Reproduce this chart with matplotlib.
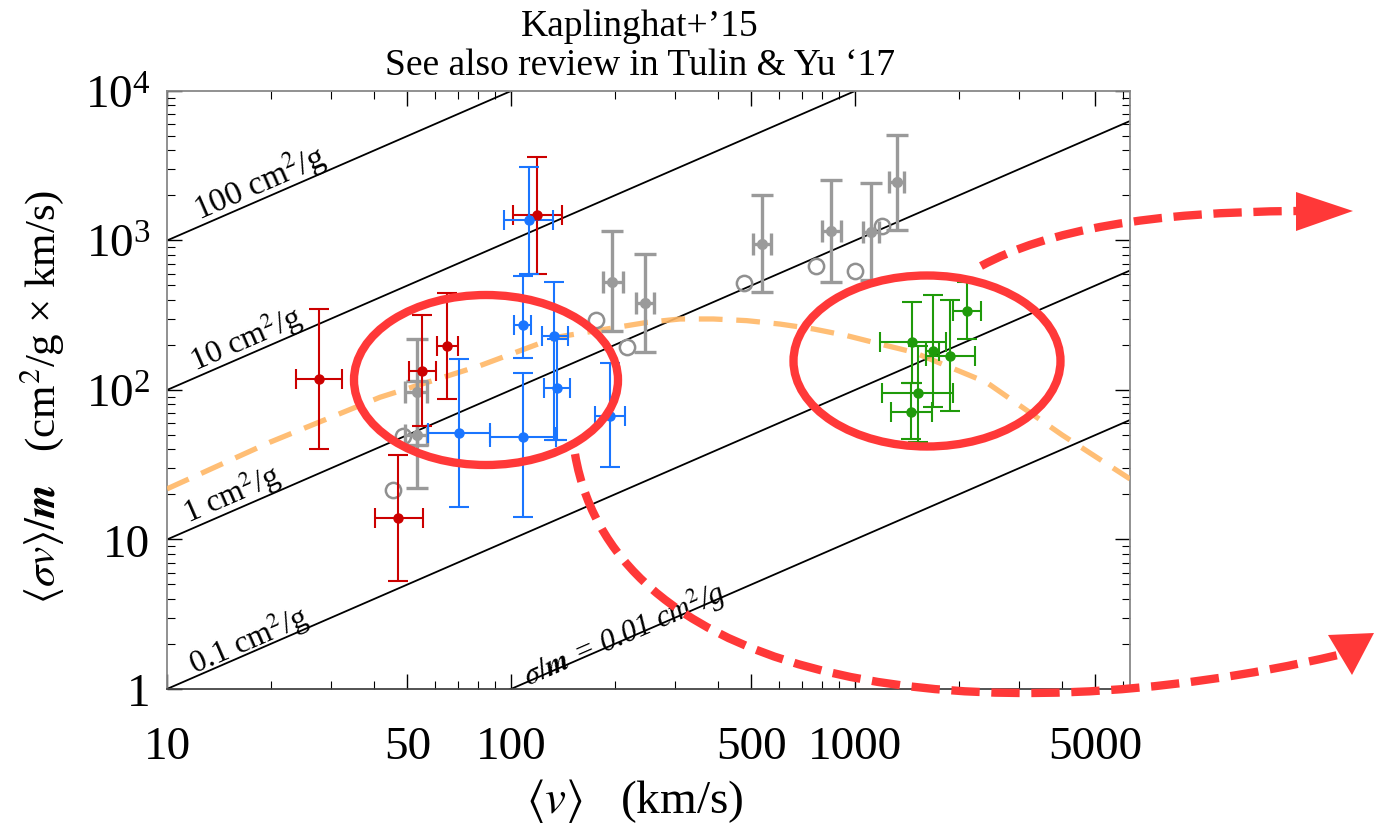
import matplotlib
matplotlib.use("Agg")
import matplotlib.pyplot as plt
import numpy as np
from matplotlib.patches import Ellipse, Polygon
from matplotlib.path import Path
from matplotlib.patches import PathPatch

plt.rcParams['font.family'] = ['Liberation Serif', 'DejaVu Serif']
plt.rcParams['mathtext.fontset'] = 'stix'

# dwarfs (red)
red_v = [27.7, 55, 65, 47, 119]
red_vlo = [23.7, 50.6, 60.8, 40.1, 101]
red_vhi = [32.3, 60.4, 70.3, 55.6, 141]
red_s = [118, 134, 198, 13.9, 1482]
red_slo = [40, 57, 87, 5.3, 597]
red_shi = [350, 318, 446, 36.9, 3600]

# LSBs (blue)
blue_v = [112.6, 108, 108, 133.6, 135.8, 70.8, 194]
blue_vlo = [95.5, 102, 86.9, 123, 124.8, 57.4, 175]
blue_vhi = [132.8, 114, 134.8, 146, 148.6, 86.9, 215]
blue_s = [1371, 273, 48.3, 231, 102.6, 51.3, 67.3]
blue_slo = [597, 164, 14.1, 46, 46.3, 16.5, 30.4]
blue_shi = [3090, 576, 129, 530, 219, 161, 152]

# gray, filled
gray_v = [53.2, 53.2, 197, 245, 536, 851, 1114, 1321]
gray_vlo = [49.2, 49.2, 185, 231, 506, 800, 1052, 1256]
gray_vhi = [56.9, 56.9, 211, 261, 570, 909, 1175, 1387]
gray_s = [97.5, 50, 530, 380, 948, 1164, 1145, 2450]
gray_slo = [42.8, 22, 247, 179, 451, 530, 545, 1175]
gray_shi = [218, 114, 1151, 812, 2027, 2552, 2426, 5100]

# gray, open circles
open_v = [45.5, 48.4, 176.6, 217, 476, 771, 1000, 1197]
open_s = [21.4, 49.5, 294, 194, 517, 675, 625, 1256]

# clusters (green)
green_v = [1468, 1683, 1892, 2113, 1520, 1455]
green_vlo = [1183, 1608, 1604, 1923, 1201, 1276]
green_vhi = [1837, 1759, 2234, 2326, 1926, 1671]
green_s = [210, 183, 170, 339, 95, 71.6]
green_slo = [111, 77, 72, 219, 44.7, 47]
green_shi = [389, 432, 402, 525, 198, 111]

# model curve (orange dashed)
curve_v = [10, 19.9, 41.6, 81.3, 135, 198, 248, 310, 387, 484, 605, 757, 946,
           1182, 1479, 2410, 4000, 6300]
curve_s = [21.8, 44.7, 89.4, 145.5, 225, 260, 283, 298.5, 298.5, 291, 276, 256,
           231, 203, 179, 112.5, 50, 25.4]

# constant sigma/m lines (cm^2/g)
sigma_m = [100, 10, 1, 0.1, 0.01]
line_labels = [r'100 cm$^2$/g', r'10 cm$^2$/g', r'1 cm$^2$/g', r'0.1 cm$^2$/g',
               r'$\sigma/\boldsymbol{m}$ = 0.01 cm$^2$/g']
label_v = [18.6, 17.0, 15.4, 17.3, 214]
label_s = [2470, 222, 20.5, 2.15, 2.33]
label_size = [24, 23, 23, 23, 22]

xlim = (10, 6300)
ylim = (1, 1e4)

fig = plt.figure(figsize=(13.85, 8.28), dpi=100)
ax = fig.add_axes([0.1206, 0.1667, 0.6953, 0.7222])
ax.set_xscale('log')
ax.set_yscale('log')
ax.set_xlim(*xlim)
ax.set_ylim(*ylim)

vv = np.array(xlim)
for sm in sigma_m:
    ax.plot(vv, sm * vv, color='black', lw=1.3, zorder=1)

ang = np.degrees(np.arctan((149.5) / 344.0))
for txt, lv, ls, fs in zip(line_labels, label_v, label_s, label_size):
    style = 'italic' if 'sigma' in txt else 'normal'
    ax.text(lv, ls, txt, rotation=ang, ha='center', va='center', fontsize=fs,
            style=style, zorder=2)

ax.plot(curve_v, curve_s, color='#ffb766', lw=3.8, ls=(0, (4.5, 2.6)), alpha=0.9, zorder=3)


def errs(v, lo, hi):
    v = np.array(v)
    return np.array([v - np.array(lo), np.array(hi) - v])


ax.plot(open_v, open_s, 'o', mfc='none', mec='#909090', mew=1.8, ms=11, zorder=4)
ax.errorbar(gray_v, gray_s, xerr=errs(gray_v, gray_vlo, gray_vhi),
            yerr=errs(gray_s, gray_slo, gray_shi), fmt='o', color='#9a9a9a',
            ms=7, elinewidth=2.4, capsize=8, capthick=2.4, zorder=5)
ax.errorbar(red_v, red_s, xerr=errs(red_v, red_vlo, red_vhi),
            yerr=errs(red_s, red_slo, red_shi), fmt='o', color='#cc0000',
            ms=6.5, elinewidth=1.5, capsize=7, capthick=1.5, zorder=6)
ax.errorbar(blue_v, blue_s, xerr=errs(blue_v, blue_vlo, blue_vhi),
            yerr=errs(blue_s, blue_slo, blue_shi), fmt='o', color='#1a75ff',
            ms=6.5, elinewidth=1.5, capsize=7, capthick=1.5, zorder=6)
ax.errorbar(green_v, green_s, xerr=errs(green_v, green_vlo, green_vhi),
            yerr=errs(green_s, green_slo, green_shi), fmt='o', color='#1f9a0a',
            ms=6.5, elinewidth=1.5, capsize=7, capthick=1.5, zorder=6)

ax.set_xticks([10, 50, 100, 500, 1000, 5000])
ax.set_xticklabels(['10', '50', '100', '500', '1000', '5000'])
ax.set_yticks([1, 10, 100, 1000, 10000])
ax.set_yticklabels(['1', '10', r'$\mathregular{10^2}$', r'$\mathregular{10^3}$',
                    r'$\mathregular{10^4}$'])
ax.tick_params(which='both', direction='in', top=True, right=True, labelsize=34)
ax.tick_params(which='major', length=11, width=1.0)
ax.tick_params(which='minor', length=6, width=0.8)
ax.tick_params(axis='x', pad=26)
ax.tick_params(axis='y', pad=12)
for side in ['left', 'right', 'top']:
    ax.spines[side].set_color('#888888')
ax.spines['bottom'].set_color('#444444')
for sp in ax.spines.values():
    sp.set_linewidth(1.3)

ax.set_xlabel(r'$\langle v\rangle$   (km/s)', fontsize=34)
ax.xaxis.set_label_coords(0.486, -0.145)
ax.set_ylabel('$\\langle \\sigma v\\rangle/\\boldsymbol{m}$   (cm$^2$/g \u00d7 km/s)',
              fontsize=31)
ax.yaxis.set_label_coords(-0.105, 0.49)

fig.text(0.462, 0.968, "Kaplinghat+\u201915", ha='center', va='center', fontsize=27)
fig.text(0.462, 0.920, "See also review in Tulin & Yu \u201817", ha='center', va='center',
         fontsize=27)

# annotation overlay in pixel coordinates
ov = fig.add_axes([0, 0, 1, 1], zorder=10)
ov.set_xlim(0, 1385)
ov.set_ylim(828, 0)
ov.axis('off')
ov.patch.set_alpha(0)
red = '#ff3838'
ov.add_patch(Ellipse((486, 381), 264, 170, fill=False, ec=red, lw=6))
ov.add_patch(Ellipse((927, 362), 267, 171, fill=False, ec=red, lw=6))

p1 = Path([(981, 267), (1080, 213), (1297, 212)], [Path.MOVETO, Path.CURVE3, Path.CURVE3])
ov.add_patch(PathPatch(p1, fill=False, ec=red, lw=6, ls=(0, (3.4, 1.4))))
ov.add_patch(Polygon([(1296, 193), (1353, 212), (1296, 232)], closed=True, fc=red, ec='none'))

p2 = Path([(575, 455), (615, 690), (980, 740), (1338, 656)],
          [Path.MOVETO, Path.CURVE4, Path.CURVE4, Path.CURVE4])
ov.add_patch(PathPatch(p2, fill=False, ec=red, lw=6, ls=(0, (3.4, 1.4))))
ov.add_patch(Polygon([(1328, 636), (1374, 634), (1352, 676)], closed=True, fc=red, ec='none'))

fig.savefig('out.png', dpi=100)
